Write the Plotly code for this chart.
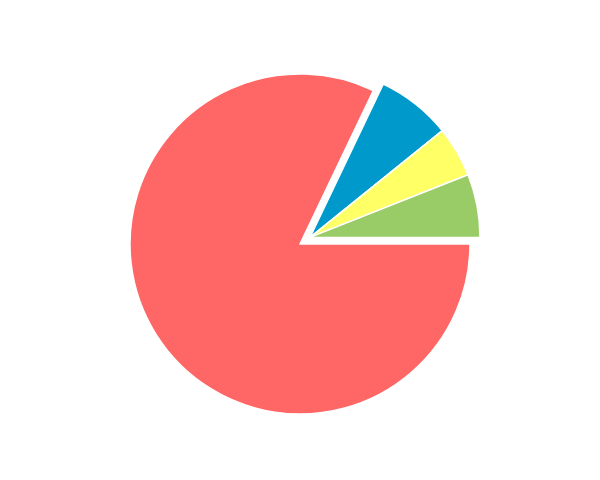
import plotly.graph_objects as go

labels = ["A", "B", "C", "D"]
values = [82.1, 7.1, 4.8, 6.0]
colors = ["#FF6666", "#0099CC", "#FFFF66", "#99CC66"]
# slices drawn as one pulled-out group (B, C, D)
pulled = [False, True, True, True]

CLEAR = "rgba(0,0,0,0)"

def pie(show, x_dom, y_dom):
    return go.Pie(
        labels=labels,
        values=values,
        sort=False,
        direction="clockwise",
        rotation=90,
        textinfo="none",
        hoverinfo="label+percent" if True in show else "skip",
        domain=dict(x=x_dom, y=y_dom),
        marker=dict(
            colors=[c if s else CLEAR for c, s in zip(colors, show)],
            line=dict(color="white", width=[1.5 if s else 0 for s in show]),
        ),
    )

fig = go.Figure()
# main pie
fig.add_trace(pie([not p for p in pulled], [122 / 600, 462 / 600], [74 / 480, 414 / 480]))
# pulled group, offset along the group's mid-angle
fig.add_trace(pie(pulled, [132 / 600, 472 / 600], [80.6 / 480, 420.6 / 480]))

fig.update_layout(
    width=600,
    height=480,
    showlegend=False,
    paper_bgcolor="white",
    plot_bgcolor="white",
    margin=dict(t=0, b=0, l=0, r=0),
)
fig.write_html("out.html")
